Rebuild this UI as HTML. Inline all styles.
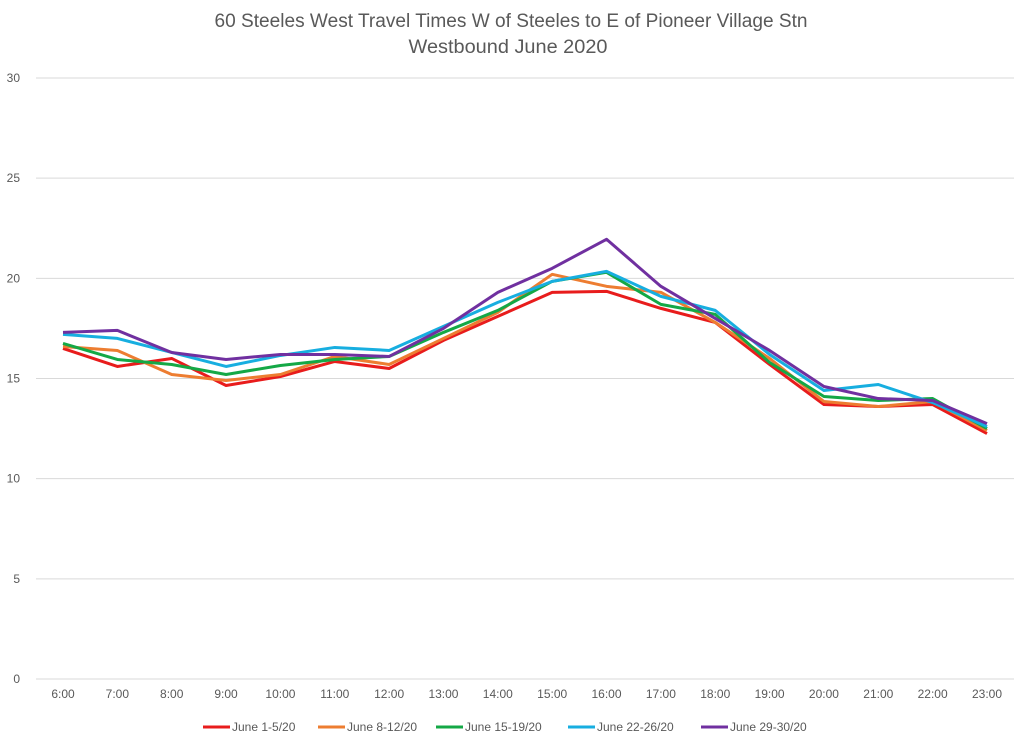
<!DOCTYPE html>
<html><head><meta charset="utf-8"><style>
body{margin:0;background:#fff;}
svg{display:block;font-family:"Liberation Sans",Arial,sans-serif;}
</style></head><body>
<svg id="chart" width="1024" height="739">
<text x="511" y="27" text-anchor="middle" font-size="19" fill="#595959" textLength="593" lengthAdjust="spacingAndGlyphs">60 Steeles West Travel Times W of Steeles to E of Pioneer Village Stn</text>
<text x="508" y="53" text-anchor="middle" font-size="19" fill="#595959" textLength="199" lengthAdjust="spacingAndGlyphs">Westbound  June 2020</text>
<g id="grid"></g><g id="series"></g><g id="legend"></g>
</svg>
<script>
const categories=["6:00","7:00","8:00","9:00","10:00","11:00","12:00","13:00","14:00","15:00","16:00","17:00","18:00","19:00","20:00","21:00","22:00","23:00"];
const yTicks=[0,5,10,15,20,25,30];
const seriesNames=["June 1-5/20","June 8-12/20","June 15-19/20","June 22-26/20","June 29-30/20"];
const seriesColors=["#e81c1c","#ed7d31","#14a846","#17aee0","#7030a0"];
const s1=[16.5,15.6,16.0,14.65,15.1,15.85,15.5,16.9,18.1,19.3,19.35,18.5,17.8,15.7,13.7,13.6,13.7,12.25];
const s2=[16.6,16.4,15.2,14.9,15.2,16.1,15.7,17.0,18.3,20.2,19.6,19.3,17.8,16.0,13.85,13.6,13.85,12.4];
const s3=[16.75,15.95,15.7,15.2,15.65,15.95,16.1,17.3,18.4,19.85,20.3,18.7,18.2,15.8,14.1,13.9,14.0,12.5];
const s4=[17.2,17.0,16.3,15.6,16.15,16.55,16.4,17.6,18.8,19.85,20.35,19.1,18.4,16.2,14.4,14.7,13.8,12.6];
const s5=[17.3,17.4,16.3,15.95,16.2,16.2,16.1,17.5,19.3,20.5,21.95,19.6,18.0,16.4,14.6,14.0,13.9,12.75];
const allSeries=[s1,s2,s3,s4,s5];
const NS="http://www.w3.org/2000/svg";
const x0=63,x1=987,yBase=679,yTop=78,yMax=30;
function xs(i){return x0+(x1-x0)*i/(categories.length-1);}
function ys(v){return yBase-(yBase-yTop)*v/yMax;}
function mk(tag,attrs,parent){const e=document.createElementNS(NS,tag);for(const k in attrs)e.setAttribute(k,attrs[k]);parent.appendChild(e);return e;}
const grid=document.getElementById('grid');
yTicks.forEach(t=>{
  const l=mk('line',{x1:36,x2:1014,y1:ys(t),y2:ys(t),stroke:'#d9d9d9','stroke-width':1},grid);
  
  
  const tx=mk('text',{x:20,y:ys(t)+4,'text-anchor':'end','font-size':12,fill:'#595959'},grid);
  tx.textContent=t;
  
  
});
categories.forEach((c,i)=>{
  const tx=mk('text',{x:xs(i),y:698,'text-anchor':'middle','font-size':12,fill:'#595959'},grid);
  tx.textContent=c;
  
  
});
const sg=document.getElementById('series');
allSeries.forEach((s,k)=>{
  const p=mk('polyline',{points:s.map((v,i)=>xs(i)+','+ys(v)).join(' '),fill:'none',stroke:seriesColors[k],'stroke-width':3,'stroke-linejoin':'round'},sg);
  
  
});
const lg=document.getElementById('legend');
const lx=[203,318,436,568,701];
seriesNames.forEach((n,k)=>{
  const g=mk('g',{},lg);
  
  
  mk('line',{x1:lx[k],x2:lx[k]+27,y1:727,y2:727,stroke:seriesColors[k],'stroke-width':3},g);
  const t=mk('text',{x:lx[k]+29,y:731,'font-size':12,fill:'#595959'},g);
  t.textContent=n;
});
</script>
</body></html>
